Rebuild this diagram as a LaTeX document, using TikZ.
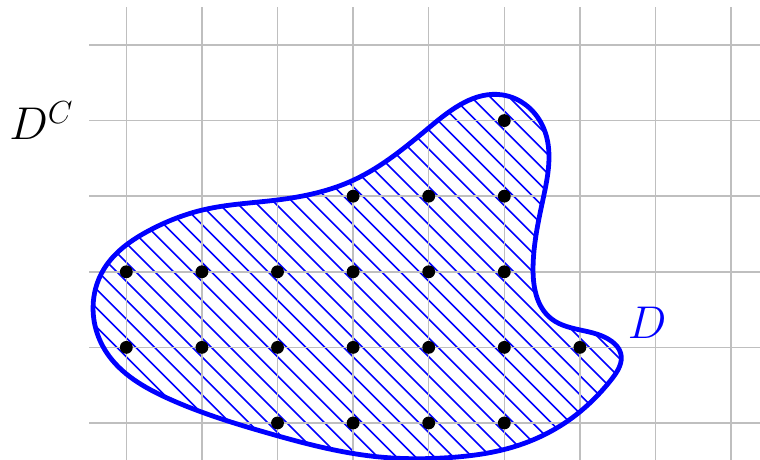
\documentclass[tikz,border=0pt]{standalone}
\usetikzlibrary{hobby}
\begin{document}
\begin{tikzpicture}[x=1cm,y=1cm,
  gridline/.style={draw=black!25, line width=0.55pt},
  hatch/.style={draw=blue, line width=0.6pt},
  boundary/.style={draw=blue, line width=1.8pt},
  dot/.style={circle, fill=black, inner sep=0pt, minimum size=0.17cm}]
\useasboundingbox (-1.671,-0.489) rectangle (8.382,5.595);
\def\blobpath{[closed hobby] plot coordinates {
 (4.97,4.34) (5.52,3.90) (5.51,2.95) (5.38,2.05) (5.62,1.38) (6.05,1.22)
 (6.42,1.08) (6.54,0.92) (6.42,0.58) (5.90,0.07) (5.11,-0.32) (4.24,-0.46)
 (3.35,-0.45) (1.86,-0.13) (0.54,0.33) (-0.26,0.93) (-0.44,1.53) (-0.30,2.03)
 (0.31,2.55) (1.02,2.82) (2.00,2.95) (3.00,3.21) (4.02,3.92)}}
% hatching
\begin{scope}
  \clip \blobpath;
  \foreach \k in {0,...,60}
    \draw[hatch] ({-1.875+\k*0.25},-1) -- ++(-8,8);
\end{scope}
% grid
\foreach \y in {0,...,5}
  \draw[gridline] (-0.493,\y) -- (8.382,\y);
\foreach \x in {0,...,8}
  \draw[gridline] (\x,5.50) -- (\x,-0.489);
% boundary
\draw[boundary] \blobpath;
% dots
\node[dot] (p54) at (5,4) {};
\foreach \x in {3,4,5} \node[dot] (p\x3) at (\x,3) {};
\foreach \x in {0,...,5} \node[dot] (p\x2) at (\x,2) {};
\foreach \x in {0,...,6} \node[dot] (p\x1) at (\x,1) {};
\foreach \x in {2,...,5} \node[dot] (p\x0) at (\x,0) {};
% labels
\node (dc) at (-1.12,4.0) {\LARGE $D^C$};
\node[text=blue] (d) at (6.89,1.32) {\LARGE $D$};
\end{tikzpicture}
\end{document}
